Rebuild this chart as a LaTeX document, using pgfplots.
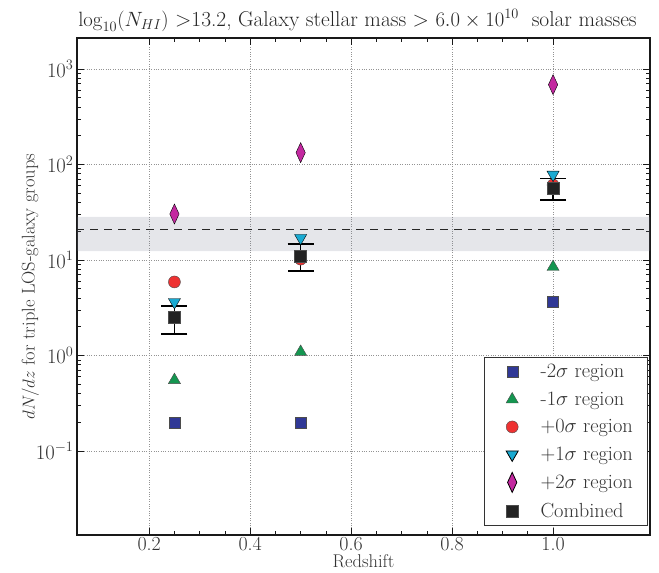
\documentclass[border=0pt]{standalone}
\usepackage{pgfplots}
\pgfplotsset{compat=1.18}
\definecolor{cA}{RGB}{48,56,150}
\definecolor{cB}{RGB}{20,150,80}
\definecolor{cC}{RGB}{238,50,50}
\definecolor{cD}{RGB}{25,170,210}
\definecolor{cE}{RGB}{195,40,160}
\definecolor{cF}{RGB}{35,35,35}
\definecolor{band}{RGB}{125,130,150}
\begin{document}
\begin{tikzpicture}
\path[use as bounding box] (-77bp,-38bp) rectangle (582bp,535bp);
\begin{axis}[
  at={(0,0)}, anchor=south west,
  scale only axis, width=573bp, height=497bp,
  xmin=0.057, xmax=1.192,
  ymode=log, ymin=0.0132, ymax=2110,
  xtick={0.2,0.4,0.6,0.8,1.0},
  xticklabels={0.2,0.4,0.6,0.8,1.0},
  minor x tick num=3,
  ytick={0.1,1,10,100,1000},
  yticklabels={$10^{-1}$,$10^{0}$,$10^{1}$,$10^{2}$,$10^{3}$},
  grid=major,
  major grid style={dotted, gray!85, line width=0.7pt},
  axis line style={line width=1.6pt, black!90},
  major tick length=7bp, minor tick length=4bp,
  every tick/.style={black!90, line width=0.7pt},
  tick label style={font=\fontsize{20}{22}\selectfont, text=black!80},
  xticklabel style={yshift=1bp},
  label style={font=\fontsize{18.5}{21}\selectfont, text=black!80},
  title style={font=\fontsize{21.5}{24}\selectfont, text=black!85, yshift=-3bp, xshift=-6bp},
  title={$\log_{10}(N_{HI})$ >13.2, Galaxy stellar mass > $6.0\times10^{10}$ \ solar masses},
  xlabel={Redshift},
  ylabel={$dN/dz$ for triple LOS-galaxy groups},
  xlabel style={yshift=3bp},
  ylabel style={yshift=-10bp},
  legend style={at={(0.997,0.018)}, anchor=south east,
    font=\fontsize{20.5}{23}\selectfont, text=black!80,
    draw=black!80, line width=0.8pt, cells={anchor=west},
    row sep=8.5bp, inner xsep=13bp, inner ysep=5bp},
  legend image code/.code={\path (-14bp,0bp) (26bp,0bp);
    \draw[#1] plot coordinates {(0bp,0bp)};},
  every axis plot/.append style={mark options={draw=black!70, line width=0.4pt}},
]
\addplot[fill=band, fill opacity=0.2, draw=none, forget plot]
  coordinates {(0.0,12.4) (1.3,12.4) (1.3,28.2) (0.0,28.2) (0.0,12.4)};
\addplot[dashed, line width=1pt, black!85, dash pattern=on 8bp off 6bp, forget plot]
  coordinates {(0.0,21.1) (1.3,21.1)};
\addplot[only marks, mark=square*, mark size=5.5bp, fill=cA] coordinates {(0.25,0.2) (0.5,0.2) (1.0,3.63)};
\addlegendentry{-2$\sigma$ region}
\addplot[only marks, mark=triangle*, mark size=7bp, fill=cB] coordinates {(0.25,0.553) (0.5,1.09) (1.0,8.45)};
\addlegendentry{-1$\sigma$ region}
\addplot[only marks, mark=*, mark size=6bp, fill=cC] coordinates {(0.25,5.89) (0.5,10.2) (1.0,61)};
\addlegendentry{+0$\sigma$ region}
\addplot[only marks, mark=triangle*, mark size=7bp, fill=cD, mark options={rotate=180}] coordinates {(0.25,3.63) (0.5,17.0) (1.0,78.2)};
\addlegendentry{+1$\sigma$ region}
\addplot[only marks, mark=diamond*, mark size=10bp, fill=cE, mark options={xscale=0.62}] coordinates {(0.25,30.3) (0.5,133) (1.0,685)};
\addlegendentry{+2$\sigma$ region}
\addplot[only marks, mark=square*, mark size=6bp, fill=cF,
  error bars/.cd, y dir=both, y explicit,
  error bar style={black, line width=1.2pt},
  error mark options={rotate=90, mark size=13bp, line width=1.2pt, black}]
  coordinates {(0.25,2.53) += (0,0.77) -= (0,0.85)
               (0.5,11.0) += (0,3.7) -= (0,3.32)
               (1.0,56.8) += (0,14.2) -= (0,14.3)};
\addlegendentry{Combined}
\end{axis}
\end{tikzpicture}
\end{document}
